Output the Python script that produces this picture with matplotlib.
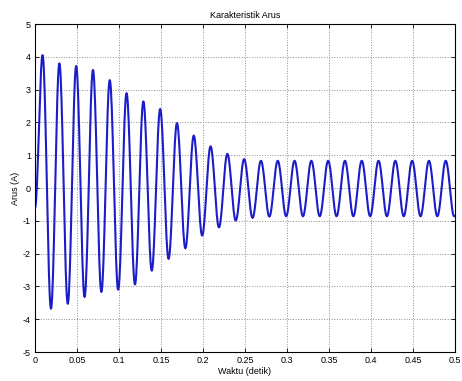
import numpy as np
import matplotlib
matplotlib.use("Agg")
import matplotlib.pyplot as plt

# extrema of the current waveform (time in s, current in A)
t_ext = [0.000, 0.009, 0.019, 0.029, 0.039, 0.049, 0.059, 0.069, 0.079, 0.089,
         0.099, 0.109, 0.119, 0.129, 0.139, 0.149, 0.159, 0.169, 0.179, 0.189,
         0.199, 0.209, 0.219, 0.229, 0.239, 0.249, 0.259, 0.269, 0.279, 0.289,
         0.299, 0.309, 0.319, 0.329, 0.339, 0.349, 0.359, 0.369, 0.379, 0.389,
         0.399, 0.409, 0.419, 0.429, 0.439, 0.449, 0.459, 0.469, 0.479, 0.489,
         0.499, 0.500]
i_ext = [-0.60, 4.05, -3.68, 3.80, -3.53, 3.72, -3.32, 3.60, -3.17, 3.29,
         -3.10, 2.89, -2.94, 2.64, -2.52, 2.41, -2.16, 1.98, -1.84, 1.60,
         -1.45, 1.27, -1.20, 1.04, -0.99, 0.88, -0.91, 0.83, -0.87, 0.83,
         -0.86, 0.83, -0.86, 0.83, -0.86, 0.83, -0.86, 0.83, -0.86, 0.83,
         -0.86, 0.83, -0.86, 0.83, -0.86, 0.83, -0.86, 0.83, -0.86, 0.83,
         -0.86, -0.86]

x_ticks = [0, 0.05, 0.1, 0.15, 0.2, 0.25, 0.3, 0.35, 0.4, 0.45, 0.5]
x_labels = ["0", "0.05", "0.1", "0.15", "0.2", "0.25", "0.3", "0.35", "0.4", "0.45", "0.5"]
y_ticks = [-5, -4, -3, -2, -1, 0, 1, 2, 3, 4, 5]
y_labels = ["-5", "-4", "-3", "-2", "-1", "0", "1", "2", "3", "4", "5"]

# draw the wave as half-cosine swings between successive extrema
t_all, i_all = [], []
for k in range(len(t_ext) - 1):
    s = np.linspace(0, 1, 20, endpoint=False)
    a, b = i_ext[k], i_ext[k + 1]
    t_all.extend(t_ext[k] + (t_ext[k + 1] - t_ext[k]) * s)
    i_all.extend((a + b) / 2 + (a - b) / 2 * np.cos(np.pi * s))
t_all.append(t_ext[-1])
i_all.append(i_ext[-1])

plt.rcParams["font.family"] = ["Liberation Sans", "DejaVu Sans"]
fig = plt.figure(figsize=(4.62, 3.81), dpi=100)
ax = fig.add_axes([0.0758, 0.076, 0.909, 0.861])

ax.plot(t_all, i_all, color="#1c1cc8", linewidth=1.5)

ax.set_xlim(0, 0.5)
ax.set_ylim(-5, 5)
ax.set_xticks(x_ticks)
ax.set_xticklabels(x_labels)
ax.set_yticks(y_ticks)
ax.set_yticklabels(y_labels)
ax.tick_params(direction="in", top=True, right=True, length=3, width=0.6,
               labelsize=6.5, pad=3)
ax.grid(True, linestyle=":", color="0.55", linewidth=0.7)
for sp in ax.spines.values():
    sp.set_linewidth(0.8)

ax.set_title("Karakteristik Arus", fontsize=6.5, pad=4)
ax.set_xlabel("Waktu (detik)", fontsize=6.5, labelpad=1)
ax.set_ylabel("Arus (A)", fontsize=6.5, labelpad=2)

fig.savefig("out.png", dpi=100)
